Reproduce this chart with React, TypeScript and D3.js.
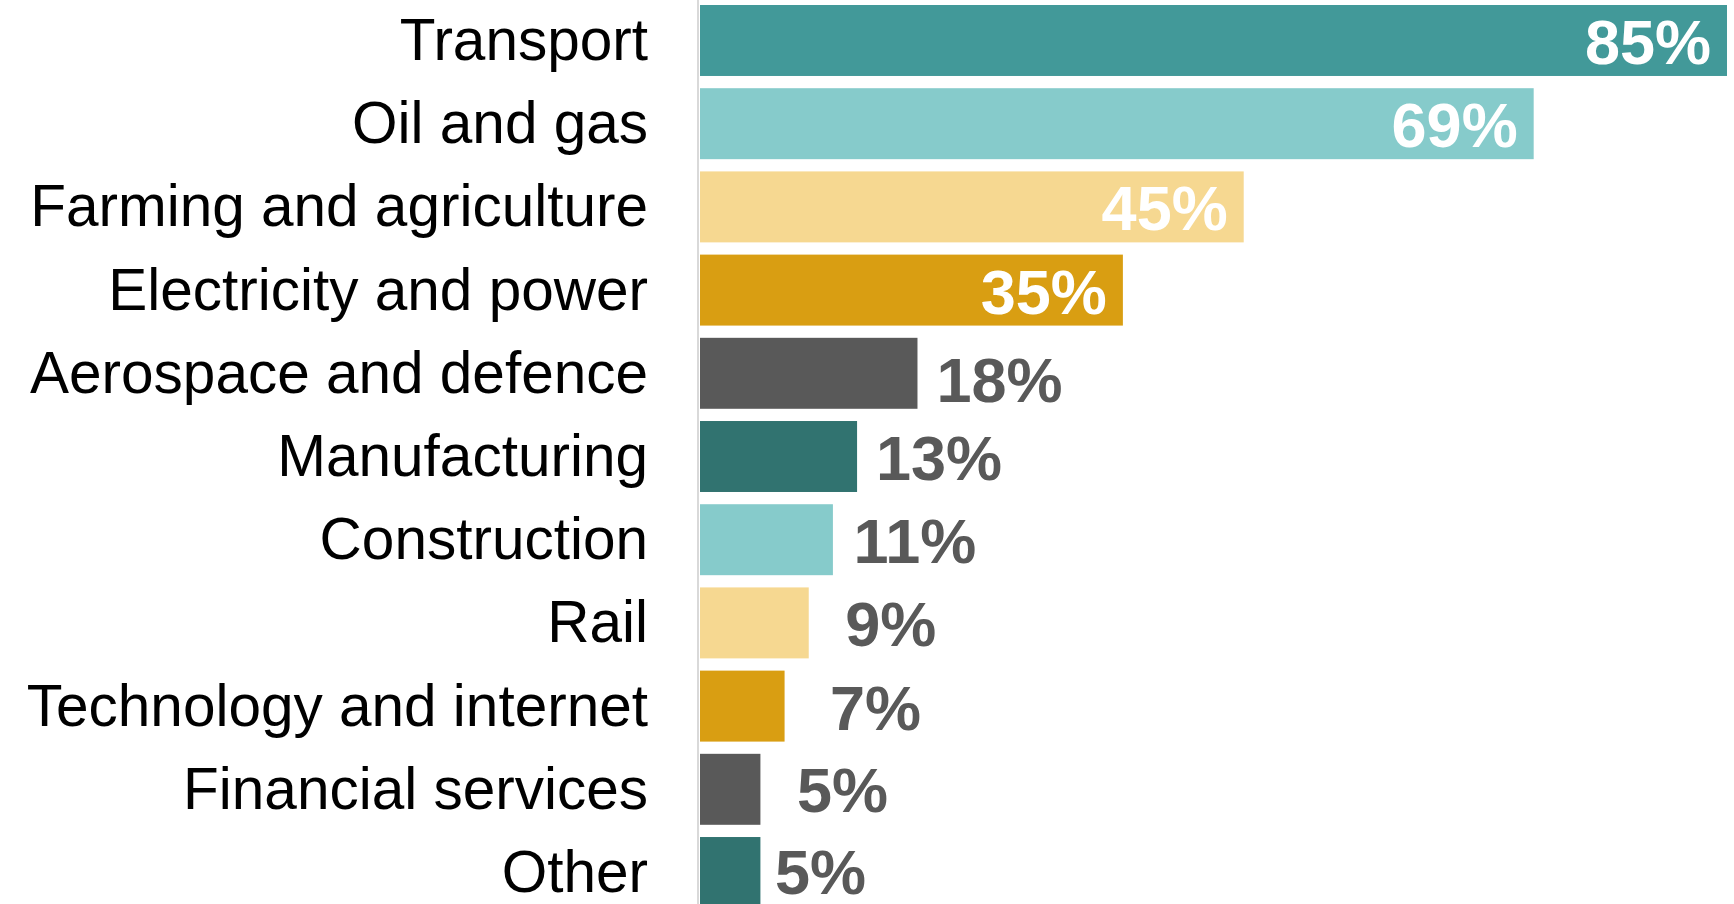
import React, { useEffect, useRef } from 'react';
import * as d3 from 'd3';

const categories = [
  'Transport',
  'Oil and gas',
  'Farming and agriculture',
  'Electricity and power',
  'Aerospace and defence',
  'Manufacturing',
  'Construction',
  'Rail',
  'Technology and internet',
  'Financial services',
  'Other',
];

const values = [85, 69, 45, 35, 18, 13, 11, 9, 7, 5, 5];

const barColors = [
  '#429999',
  '#86cbcb',
  '#f6d891',
  '#d99e12',
  '#595959',
  '#317370',
  '#86cbcb',
  '#f6d891',
  '#d99e12',
  '#595959',
  '#317370',
];

// labels of the long bars sit inside the bar end
const insideLabel = [true, true, true, true, false, false, false, false, false, false, false];

// small hand nudges for the outside labels, as placed in the original
const labelNudgeX = [0, 0, 0, 0, 0, 0, 0, 0, 9, 0, -22];
const labelNudgeY = [0, 0, 0, 0, 5, 0, 0, 0, 0, -1, -2];

const WIDTH = 1734;
const HEIGHT = 904;

export default function App() {
  const svgRef = useRef<SVGSVGElement>(null);

  useEffect(() => {
    if (!svgRef.current) return;

    const svg = d3.select(svgRef.current);
    svg.selectAll('*').remove();

    const x0 = 700;

    const x = d3.scaleLinear().domain([0, 85]).range([x0, 1727]);

    const y = d3
      .scaleBand<string>()
      .domain(categories)
      .range([5, 5 + categories.length * 83.2 - 12.2])
      .paddingInner(0.147)
      .paddingOuter(0);

    const data = categories.map((c, i) => ({ name: c, value: values[i], i }));

    // bars
    svg
      .append('g')
      .selectAll('rect')
      .data(data)
      .enter()
      .append('rect')
      .attr('x', x0)
      .attr('y', d => y(d.name) as number)
      .attr('width', d => x(d.value) - x0)
      .attr('height', y.bandwidth())
      .attr('fill', d => barColors[d.i]);

    // axis line
    svg
      .append('line')
      .attr('x1', x0 - 2)
      .attr('x2', x0 - 2)
      .attr('y1', 0)
      .attr('y2', HEIGHT)
      .attr('stroke', '#d9d9d9')
      .attr('stroke-width', 2);

    // category labels
    svg
      .append('g')
      .selectAll('text')
      .data(data)
      .enter()
      .append('text')
      .attr('x', 648)
      .attr('y', d => (y(d.name) as number) + y.bandwidth() / 2 + 19.5)
      .attr('text-anchor', 'end')
      .style('font-family', '"Liberation Sans", Arial, sans-serif')
      .style('font-size', '58.5px')
      .attr('fill', '#000')
      .text(d => d.name);

    // value labels
    svg
      .append('g')
      .selectAll('text')
      .data(data)
      .enter()
      .append('text')
      .attr('x', d =>
        insideLabel[d.i] ? x(d.value) - 16 : x(d.value) + 82 + labelNudgeX[d.i]
      )
      .attr('y', d => (y(d.name) as number) + y.bandwidth() / 2 + 23.5 + labelNudgeY[d.i])
      .attr('text-anchor', d => (insideLabel[d.i] ? 'end' : 'middle'))
      .style('font-family', '"Liberation Sans", Arial, sans-serif')
      .style('font-size', '63px')
      .style('font-weight', 'bold')
      .attr('fill', d => (insideLabel[d.i] ? '#ffffff' : '#595959'))
      .text(d => `${d.value}%`);
  }, []);

  return (
    <svg
      ref={svgRef}
      width={WIDTH}
      height={HEIGHT}
      style={{ position: 'absolute', left: 0, top: 0, background: '#fff' }}
    />
  );
}
